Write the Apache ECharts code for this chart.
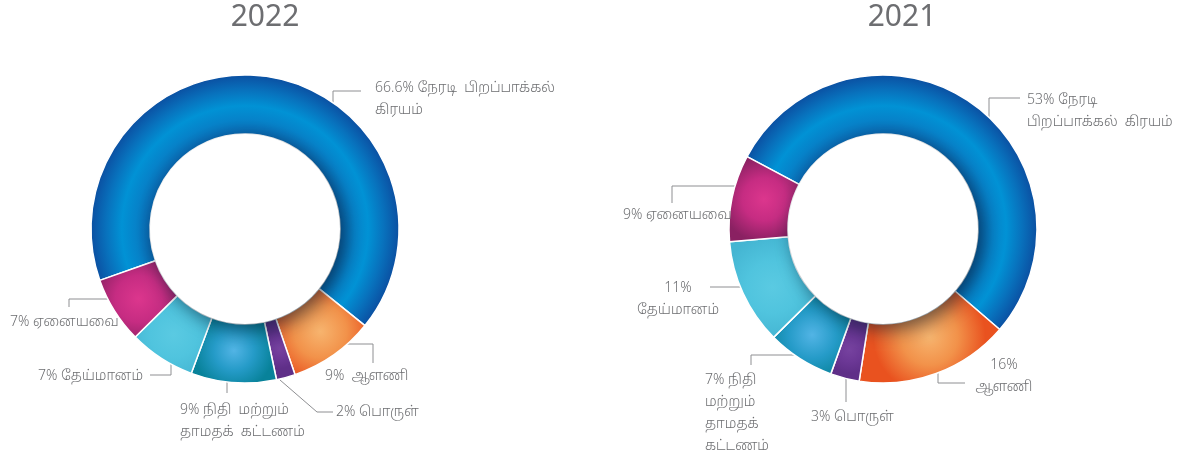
<!DOCTYPE html>
<html>
<head>
<meta charset="utf-8">
<script src="https://cdn.jsdelivr.net/npm/echarts@6/dist/echarts.min.js"></script>
<style>
  html, body { margin: 0; padding: 0; background: #ffffff; }
  #chart { width: 1182px; height: 455px; }
</style>
</head>
<body>
<div id="chart"></div>
<script>
// Cost categories (same order in both years, drawn clockwise)
const categories = [
  'நேரடி பிறப்பாக்கல் கிரயம்',
  'ஆளணி',
  'பொருள்',
  'நிதி மற்றும் தாமதக் கட்டணம்',
  'தேய்மானம்',
  'ஏனையவை'
];

// Share of total cost, %
const values2022 = [66.6, 9, 2, 9, 7, 7];
const values2021 = [53, 16, 3, 7, 11, 9];

const years = ['2022', '2021'];

// Label texts; {v} is replaced by the slice value
const labels2022 = [
  '{v}% நேரடி  பிறப்பாக்கல்\nகிரயம்',
  '{v}%  ஆளணி',
  '{v}% பொருள்',
  '{v}% நிதி  மற்றும்\nதாமதக்  கட்டணம்',
  '{v}% தேய்மானம்',
  '{v}% ஏனையவை'
];
const labels2021 = [
  '{v}% நேரடி\nபிறப்பாக்கல்  கிரயம்',
  '{v}%\nஆளணி',
  '{v}% பொருள்',
  '{v}% நிதி\nமற்றும்\nதாமதக்\nகட்டணம்',
  '{v}%\nதேய்மானம்',
  '{v}% ஏனையவை'
];

// ---- styling & layout ----
const FONT = "'Noto Sans', 'Noto Sans Tamil', sans-serif";
const TEXT = '#6d6e71';
const LINE = '#8e8f92';
const R_IN = 95, R_OUT = 154;
const LINE_H = 22;

// Leader lines and label anchors, offsets from each pie centre
const layout2022 = [
  { line: [[88, -124], [88, -138], [116, -138]], tx: 130, ty: -141, align: 'left' },
  { line: [[82, 115], [128, 115], [128, 134]], tx: 80, ty: 147, align: 'left' },
  { line: [[35, 151], [72, 183], [88, 183]], tx: 91, ty: 183, align: 'left' },
  { line: [[-18, 148], [-18, 164], [-18, 164]], tx: -65, ty: 181, align: 'left' },
  { line: [[-74, 126], [-74, 146], [-95, 146]], tx: -102, ty: 147, align: 'right' },
  { line: [[-125, 70], [-176, 70], [-176, 78]], tx: -235, ty: 93, align: 'left' }
];
const layout2021 = [
  { line: [[106, -111], [106, -131], [137, -131]], tx: 144, ty: -129, align: 'left' },
  { line: [[55, 134], [55, 154], [82, 154]], tx: 121, ty: 136, align: 'center' },
  { line: [[-37, 148], [-37, 173], [-37, 173]], tx: -72, ty: 188, align: 'left' },
  { line: [[-83, 126], [-132, 126], [-132, 136]], tx: -178, ty: 151, align: 'left' },
  { line: [[-136, 58], [-173, 58], [-173, 58]], tx: -205, ty: 59, align: 'center' },
  { line: [[-143, -43], [-211, -43], [-211, -26]], tx: -260, ty: -14, align: 'left' }
];

const pies = [
  { year: years[0], center: [245, 229], startAngle: 199.5, titleX: 265,
    values: values2022, labels: labels2022, layout: layout2022 },
  { year: years[1], center: [883, 229], startAngle: 152, titleX: 902,
    values: values2021, labels: labels2021, layout: layout2021 }
];

// Shaded band for the large slice: bright along the middle of the ring
function ringFill(cx, cy) {
  return {
    type: 'radial', x: cx, y: cy, r: R_OUT, global: true,
    colorStops: [
      { offset: R_IN / R_OUT, color: '#0a67b0' },
      { offset: 0.71, color: '#0682c9' },
      { offset: 0.80, color: '#0192d5' },
      { offset: 0.90, color: '#0872bd' },
      { offset: 1, color: '#0b50a2' }
    ]
  };
}
// Soft spot shading centred in a slice
function spot(c0, c1, c2) {
  return {
    type: 'radial', x: 0.5, y: 0.5, r: 0.6,
    colorStops: [
      { offset: 0, color: c0 },
      { offset: 0.5, color: c1 },
      { offset: 1, color: c2 }
    ]
  };
}
function sliceFills(cx, cy) {
  return [
    ringFill(cx, cy),
    spot('#f7b46e', '#f2924a', '#e9521f'),
    spot('#76429f', '#6c3896', '#5f2f88'),
    spot('#52b4e5', '#259bc8', '#08829a'),
    spot('#5acae2', '#50c4de', '#44b5d2'),
    spot('#dc368d', '#c62c82', '#8a2162')
  ];
}

const series = [];
pies.forEach(function (p) {
  const fills = sliceFills(p.center[0], p.center[1]);
  series.push({
    type: 'pie',
    center: p.center,
    radius: [R_IN, R_OUT],
    startAngle: p.startAngle,
    clockwise: true,
    avoidLabelOverlap: false,
    animation: false,
    silent: true,
    z: 2,
    itemStyle: { borderColor: '#ffffff', borderWidth: 1.5 },
    label: {
      show: true,
      color: TEXT,
      fontFamily: FONT,
      fontWeight: 300,
      fontSize: 14,
      lineHeight: LINE_H,
      formatter: function (params) {
        return p.labels[params.dataIndex].replace('{v}', params.value);
      }
    },
    labelLine: { show: true, smooth: false, lineStyle: { color: LINE, width: 1 } },
    labelLayout: function (params) {
      const L = p.layout[params.dataIndex];
      const cx = p.center[0], cy = p.center[1];
      return {
        x: cx + L.tx,
        y: cy + L.ty - LINE_H / 2,
        align: L.align,
        verticalAlign: 'top',
        labelLinePoints: L.line.map(function (pt) { return [cx + pt[0], cy + pt[1]]; })
      };
    },
    data: categories.map(function (name, i) {
      return { name: name, value: p.values[i], itemStyle: { color: fills[i] } };
    })
  });
  // White centre disc casting a soft shadow onto the ring
  series.push({
    type: 'pie',
    center: p.center,
    radius: [0, R_IN],
    animation: false,
    silent: true,
    z: 3,
    label: { show: false },
    labelLine: { show: false },
    itemStyle: {
      color: '#ffffff',
      shadowBlur: 18,
      shadowColor: 'rgba(0, 25, 45, 0.55)',
      shadowOffsetX: 5,
      shadowOffsetY: 6
    },
    data: [{ value: 1, name: 'centre' }]
  });
});

const chart = echarts.init(document.getElementById('chart'), null, { renderer: 'canvas' });
chart.setOption({
  backgroundColor: '#ffffff',
  animation: false,
  tooltip: { show: false },
  graphic: pies.map(function (p) {
    return {
      type: 'text',
      x: p.titleX,
      y: 17,
      silent: true,
      style: {
        text: p.year,
        fill: TEXT,
        font: "30px 'Noto Sans', 'Open Sans', sans-serif",
        align: 'center',
        verticalAlign: 'middle',
        textAlign: 'center',
        textVerticalAlign: 'middle'
      }
    };
  }),
  series: series
});
</script>
</body>
</html>
